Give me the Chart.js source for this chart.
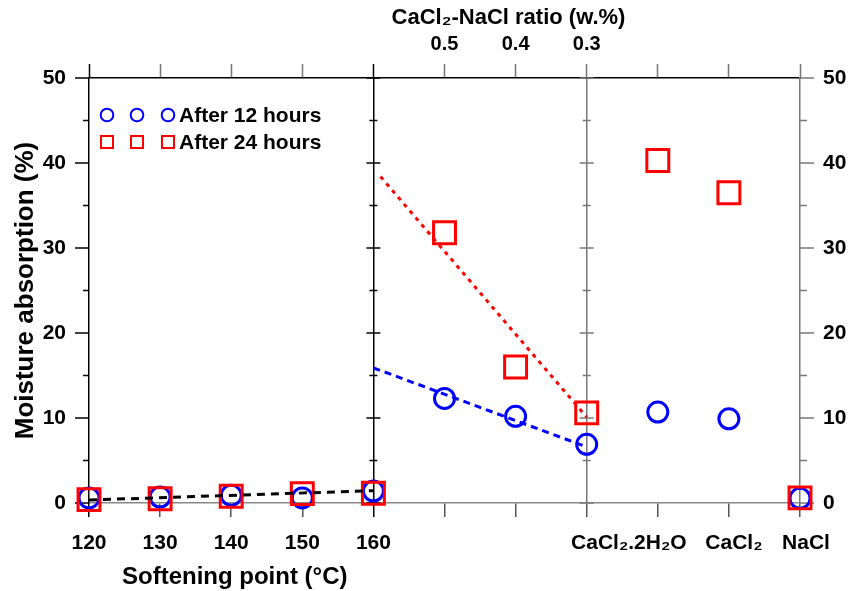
<!DOCTYPE html>
<html>
<head>
<meta charset="utf-8">
<script src="https://cdn.jsdelivr.net/npm/chart.js@4/dist/chart.umd.min.js"></script>
<style>
  body { margin: 0; background: #fff; }
  #wrap { width: 848px; height: 591px; }
</style>
</head>
<body>
<div id="wrap"><canvas id="moisture-chart" width="848" height="591"></canvas></div>
<script>
// x positions: 5 softening points, 3 CaCl2-NaCl ratios, then 3 reference salts
const positions = [0, 1, 2, 3, 4, 5, 6, 7, 8, 9, 10];
const bottomLabels = ['120', '130', '140', '150', '160', '', '', '', '', '', ''];
const topLabels = ['', '', '', '', '', '0.5', '0.4', '0.3', '', '', ''];
const saltLabels = ['CaCl₂.2H₂O', 'CaCl₂', 'NaCl'];
const saltPositions = [8, 9, 10];
const saltNudge = [-29, 5, 6];   // px, labels sit a bit off their ticks in the original
const yTickValues = [0, 5, 10, 15, 20, 25, 30, 35, 40, 45, 50];

// moisture absorption (%)
const after12h = [0.6, 0.7, 0.9, 0.6, 1.4, 12.3, 10.2, 6.9, 10.7, 9.9, 0.55];
const after24h = [0.4, 0.5, 0.8, 1.1, 1.15, 31.8, 16.0, 10.6, 40.3, 36.5, 0.6];

// dashed trend lines [x, y]
const fitSoftening = [[0, 0.35], [4, 1.45]];
const fitRatio12 = [[4, 15.9], [7, 6.6]];
const fitRatio24 = [[4.1, 38.4], [7, 10.1]];

const FONT = "'Liberation Sans', Arial, sans-serif";
const tickFont = { family: FONT, size: 21, weight: 'bold' };

const toPoints = (ys) => positions.map((p, i) => ({ x: p, y: ys[i] }));
const toLine = (pairs) => pairs.map(p => ({ x: p[0], y: p[1] }));

// extra tick marks: minor/major on y axes, crossing ticks on the separators
const axisTicks = {
  id: 'axisTicks',
  beforeDatasetsDraw(chart) {
    const { ctx, chartArea: a, scales: { x, y } } = chart;
    ctx.save();
    ctx.lineWidth = 1.5;
    const seg = (x1, y1, x2, y2, c) => {
      ctx.strokeStyle = c;
      ctx.beginPath(); ctx.moveTo(x1, y1); ctx.lineTo(x2, y2); ctx.stroke();
    };
    yTickValues.forEach(v => {
      const py = y.getPixelForValue(v);
      const major = v % 10 === 0;
      seg(a.left - (major ? 14 : 6), py, a.left, py, '#000');
      seg(a.right, py, a.right + (major ? 14 : 7), py, '#777');
      const h = major ? 7 : 4;
      seg(x.getPixelForValue(4) - h, py, x.getPixelForValue(4) + h, py, '#000');
      seg(x.getPixelForValue(7) - h, py, x.getPixelForValue(7) + h, py, '#777');
    });
    ctx.restore();
  }
};

// salt names, titles under the left panel / above the ratio panel, and the legend
const extraText = {
  id: 'extraText',
  afterDraw(chart) {
    const { ctx, chartArea: a, scales: { x } } = chart;
    ctx.save();
    ctx.fillStyle = '#000';
    ctx.textAlign = 'center';
    ctx.textBaseline = 'middle';
    ctx.font = `bold 21px ${FONT}`;
    saltLabels.forEach((t, i) => {
      ctx.fillText(t, x.getPixelForValue(saltPositions[i]) + saltNudge[i], a.bottom + 40);
    });
    ctx.font = `bold 24px ${FONT}`;
    ctx.fillText('Softening point (°C)', x.getPixelForValue(2.05), 577);
    ctx.font = `bold 22px ${FONT}`;
    ctx.fillText('CaCl₂-NaCl ratio (w.%)', x.getPixelForValue(5.9), 18);

    // legend
    const rows = [
      { text: 'After 12 hours', color: '#0000ff', shape: 'circle', y: a.top + 37 },
      { text: 'After 24 hours', color: '#ff0000', shape: 'rect', y: a.top + 64 }
    ];
    ctx.lineWidth = 2;
    rows.forEach(r => {
      ctx.strokeStyle = r.color;
      [a.left + 18, a.left + 48, a.left + 79].forEach(cx => {
        ctx.beginPath();
        if (r.shape === 'circle') ctx.arc(cx, r.y, 6.3, 0, Math.PI * 2);
        else ctx.rect(cx - 6, r.y - 6, 12, 12);
        ctx.stroke();
      });
      ctx.textAlign = 'left';
      ctx.font = `bold 21px ${FONT}`;
      ctx.fillText(r.text, a.left + 90, r.y + 1);
    });
    ctx.restore();
  }
};

new Chart(document.getElementById('moisture-chart'), {
  type: 'scatter',
  data: {
    datasets: [
      { data: toLine(fitSoftening), showLine: true, pointRadius: 0, borderColor: '#000', borderWidth: 3, borderDash: [8, 6], order: 0 },
      { data: toLine(fitRatio12), showLine: true, pointRadius: 0, borderColor: '#0000ff', borderWidth: 3, borderDash: [7, 5], order: 0 },
      { data: toLine(fitRatio24), showLine: true, pointRadius: 0, borderColor: '#ff0000', borderWidth: 3, borderDash: [4, 5], order: 0 },
      { label: 'After 24 hours', data: toPoints(after24h), pointStyle: 'rect', pointRadius: 15.5, borderColor: '#ff0000', backgroundColor: 'rgba(0,0,0,0)', pointBorderWidth: 3, clip: false, order: 1 },
      { label: 'After 12 hours', data: toPoints(after12h), pointStyle: 'circle', pointRadius: 10, borderColor: '#0000ff', backgroundColor: 'rgba(0,0,0,0)', pointBorderWidth: 3, clip: false, order: 2 }
    ]
  },
  options: {
    responsive: false,
    animation: false,
    events: [],
    layout: { padding: 0 },
    plugins: { legend: { display: false }, tooltip: { enabled: false } },
    scales: {
      x: {
        type: 'linear', position: 'bottom', min: 0, max: 10,
        afterBuildTicks: s => { s.ticks = positions.map(v => ({ value: v })); },
        afterFit: s => { s.height = 88; },
        grid: {
          color: c => (c.tick && c.tick.value === 4) ? '#000' : (c.tick && c.tick.value === 7) ? '#777' : 'rgba(0,0,0,0)',
          lineWidth: 1.5, tickLength: 14, tickWidth: 1.5,
          tickColor: c => (c.tick && (c.tick.value === 0 || c.tick.value === 4)) ? '#000' : '#555'
        },
        border: { color: '#888', width: 1.5 },
        ticks: { callback: v => bottomLabels[v], padding: 14, font: tickFont, color: '#000', maxRotation: 0, autoSkip: false }
      },
      x2: {
        type: 'linear', position: 'top', min: 0, max: 10,
        afterBuildTicks: s => { s.ticks = positions.map(v => ({ value: v })); },
        afterFit: s => { s.height = 78; },
        grid: {
          drawOnChartArea: false, tickLength: 14, tickWidth: 1.5,
          tickColor: c => (c.tick && (c.tick.value === 0 || c.tick.value === 4)) ? '#000' : '#777'
        },
        border: { color: '#000', width: 1.5 },
        ticks: { callback: v => topLabels[v], padding: 8, font: { family: FONT, size: 20, weight: 'bold' }, color: '#000', maxRotation: 0, autoSkip: false }
      },
      y: {
        position: 'left', min: 0, max: 50,
        afterFit: s => { s.width = 89; },
        grid: { drawOnChartArea: false, drawTicks: false },
        border: { color: '#000', width: 1.5 },
        ticks: { stepSize: 10, padding: 23, font: tickFont, color: '#000' },
        title: { display: true, text: 'Moisture absorption (%)', font: { family: FONT, size: 26, weight: 'bold' }, color: '#000', padding: { top: 10, bottom: 0 } }
      },
      y2: {
        position: 'right', min: 0, max: 50,
        afterFit: s => { s.width = 48; },
        grid: { drawOnChartArea: false, drawTicks: false },
        border: { color: '#777', width: 1.5 },
        ticks: { stepSize: 10, padding: 23, font: tickFont, color: '#000' }
      }
    }
  },
  plugins: [axisTicks, extraText]
});
</script>
</body>
</html>
